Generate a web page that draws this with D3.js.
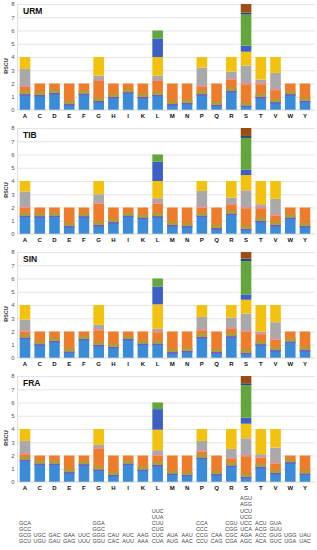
<!DOCTYPE html>
<html>
<head>
<meta charset="utf-8">
<script src="https://cdn.jsdelivr.net/npm/d3@7"></script>
<style>
    body { margin: 0; background: #fff; }
    svg { display: block; font-family: "Liberation Sans", Arial, sans-serif; }
    .grid line { stroke: #dedede; stroke-width: 0.8; }
    .grid path { display: none; }
    .y-axis path, .x-axis path { display: none; }
    .y-axis text { fill: #555; font-size: 6px; }
    .x-axis text { fill: #111; font-size: 6px; font-weight: bold; }
</style>
</head>
<body>
<div id="chart_parent"></div>
<script>
const aminoAcids = ['A', 'C', 'D', 'E', 'F', 'G', 'H', 'I', 'K', 'L', 'M', 'N', 'P', 'Q', 'R', 'S', 'T', 'V', 'W', 'Y'];

// codons of each amino acid, listed from the bottom of the stack upwards
const codons = [
    ['GCU', 'GCG', 'GCC', 'GCA'],
    ['UGU', 'UGC'],
    ['GAU', 'GAC'],
    ['GAG', 'GAA'],
    ['UUU', 'UUC'],
    ['GGU', 'GGG', 'GGC', 'GGA'],
    ['CAC', 'CAU'],
    ['AUU', 'AUC'],
    ['AAA', 'AAG'],
    ['CUA', 'CUC', 'CUG', 'CUU', 'UUA', 'UUC'],
    ['AUG', 'AUA'],
    ['AAC', 'AAU'],
    ['CCU', 'CCG', 'CCC', 'CCA'],
    ['CAG', 'CAA'],
    ['CGA', 'CGC', 'CGG', 'CGU'],
    ['AGC', 'AGA', 'UCA', 'UCC', 'UCG', 'UCU', 'AGG', 'AGU'],
    ['ACA', 'ACC', 'ACG', 'ACU'],
    ['GUC', 'GUG', 'GUU', 'GUA'],
    ['UGA', 'UGG'],
    ['UAC', 'UAU'],
];

const panelNames = ['URM', 'TIB', 'SIN', 'FRA'];

const urmRscu = [
    [1.2, 0.55, 1.35, 0.9], [1.15, 0.85], [1.3, 0.7], [0.45, 1.55], [1.25, 0.75],
    [0.7, 1.5, 0.4, 1.4], [1.0, 1.0], [1.35, 0.65], [1.0, 1.0],
    [1.15, 1.05, 0.4, 1.4, 1.4, 0.6], [0.45, 1.55], [0.55, 1.45],
    [1.2, 0.55, 1.45, 0.8], [0.4, 1.6], [1.45, 0.85, 0.6, 1.1],
    [0.35, 1.6, 1.4, 1.05, 0.45, 2.35, 0.15, 0.65],
    [1.0, 0.95, 0.35, 1.7], [0.6, 0.9, 1.3, 1.2], [1.2, 0.8], [0.7, 1.3],
];

const tibRscu = [
    [1.4, 0.6, 1.2, 0.8], [1.35, 0.65], [1.4, 0.6], [0.6, 1.4], [1.35, 0.65],
    [0.7, 1.6, 0.7, 1.0], [0.9, 1.1], [1.4, 0.6], [1.25, 0.75],
    [1.35, 0.95, 0.4, 1.3, 1.45, 0.55], [0.7, 1.3], [0.6, 1.4],
    [1.4, 0.6, 1.25, 0.75], [0.45, 1.55], [1.55, 0.65, 0.55, 1.25],
    [0.4, 1.55, 1.35, 1.15, 0.4, 2.4, 0.15, 0.6],
    [1.0, 0.95, 0.3, 1.75], [0.7, 0.7, 1.25, 1.35], [1.25, 0.75], [0.6, 1.4],
];

const sinRscu = [
    [1.55, 0.45, 0.9, 1.1], [1.05, 0.95], [1.3, 0.7], [0.5, 1.5], [1.45, 0.55],
    [1.0, 1.1, 0.4, 1.5], [0.85, 1.15], [1.45, 0.55], [1.1, 0.9],
    [1.1, 0.85, 0.25, 1.85, 1.35, 0.6], [0.45, 1.55], [0.55, 1.45],
    [1.6, 0.5, 1.0, 0.9], [0.45, 1.55], [1.65, 0.55, 0.85, 0.95],
    [0.4, 1.6, 1.35, 1.05, 0.4, 2.5, 0.2, 0.5],
    [1.05, 0.75, 0.2, 2.0], [0.6, 0.8, 1.3, 1.3], [1.25, 0.75], [0.6, 1.4],
];

const fraRscu = [
    [1.7, 0.4, 1.0, 0.9], [1.4, 0.6], [1.4, 0.6], [0.75, 1.25], [1.35, 0.65],
    [0.95, 1.55, 0.3, 1.2], [0.55, 1.45], [1.4, 0.6], [0.95, 1.05],
    [1.3, 0.7, 0.4, 1.55, 1.55, 0.5], [0.65, 1.35], [0.55, 1.45],
    [1.85, 0.45, 0.8, 0.9], [0.6, 1.4], [1.25, 0.5, 0.75, 1.5],
    [0.4, 1.55, 1.35, 1.1, 0.45, 2.45, 0.15, 0.55],
    [1.15, 0.7, 0.25, 1.9], [0.7, 0.7, 1.2, 1.4], [1.5, 0.5], [0.65, 1.35],
];

const yTicks = [0, 1, 2, 3, 4, 5, 6, 7, 8];

const panelValues = [urmRscu, tibRscu, sinRscu, fraRscu];

// one colour per position in the stack
const segmentColours = ['#3b8cd8', '#ee7d2b', '#a9a9a9', '#f3c20e', '#3d5fc6', '#62a63c', '#274a78', '#9b4d12'];

const chartConfig = {
    outerWidth: 317,
    outerHeight: 550,
    panelStep: 124,
    zeroY: 110,
    topY: 4,
    plotLeft: 17.6,
    plotRight: 315,
};

const svg = d3.select('#chart_parent').append('svg')
    .attr('width', chartConfig.outerWidth)
    .attr('height', chartConfig.outerHeight);

const xScale = d3.scaleBand()
    .domain(aminoAcids)
    .range([17.63, 312.37])
    .paddingInner(0.28)
    .paddingOuter(0.14);

function drawPanel(index) {
    const off = index * chartConfig.panelStep;
    const values = panelValues[index];

    const yScale = d3.scaleLinear()
        .domain([0, 8])
        .range([chartConfig.zeroY + off, chartConfig.topY + off]);

    const g = svg.append('g').attr('class', 'panel');

    g.append('g')
        .attr('class', 'grid')
        .attr('transform', `translate(${chartConfig.plotLeft},0)`)
        .call(d3.axisLeft(yScale).tickValues(yTicks.slice(1))
            .tickSize(-(chartConfig.plotRight - chartConfig.plotLeft)).tickFormat(''));

    g.append('line')
        .attr('x1', chartConfig.plotLeft).attr('x2', chartConfig.plotLeft)
        .attr('y1', yScale(0)).attr('y2', yScale(8))
        .attr('stroke', '#d4d4d4').attr('stroke-width', 0.8);

    g.append('g')
        .attr('class', 'y-axis')
        .attr('transform', `translate(${chartConfig.plotLeft},0)`)
        .call(d3.axisLeft(yScale).tickValues(yTicks).tickSize(0).tickPadding(3).tickFormat(d3.format('d')));

    // stacked bars
    aminoAcids.forEach((aa, i) => {
        const vals = values[i];
        const tops = d3.cumsum(vals);
        const x = xScale(aa);
        const w = xScale.bandwidth();
        vals.forEach((v, k) => {
            const y0 = yScale(tops[k] - v);
            const y1 = yScale(tops[k]);
            g.append('rect')
                .attr('x', x).attr('width', w)
                .attr('y', y1).attr('height', y0 - y1)
                .attr('fill', segmentColours[k]);
            // soft seams between segments, as in the original figure
            if (k === 0 && vals.length > 1) {
                g.append('rect').attr('x', x).attr('width', w)
                    .attr('y', y1).attr('height', 1.6).attr('fill', '#7659c6');
            }
            if (k === 1) {
                g.append('rect').attr('x', x).attr('width', w)
                    .attr('y', y0 - Math.min(3, y0 - y1)).attr('height', Math.min(3, y0 - y1))
                    .attr('fill', '#aaa03a');
            }
            if (k === 2) {
                g.append('rect').attr('x', x).attr('width', w)
                    .attr('y', y0 - 1.6).attr('height', 1.6).attr('fill', '#e3909c');
            }
        });
    });

    g.append('line')
        .attr('x1', chartConfig.plotLeft).attr('x2', chartConfig.plotRight)
        .attr('y1', yScale(0)).attr('y2', yScale(0))
        .attr('stroke', '#c8c8c8').attr('stroke-width', 0.8);

    g.append('g')
        .attr('class', 'x-axis')
        .attr('transform', `translate(0,${yScale(0)})`)
        .call(d3.axisBottom(xScale).tickSize(0).tickPadding(4));

    g.append('text')
        .attr('x', 23)
        .attr('y', yScale(8) + 10)
        .attr('font-size', 8.5)
        .attr('font-weight', 'bold')
        .attr('fill', '#111')
        .text(panelNames[index]);

    g.append('text')
        .attr('transform', `translate(6,${yScale(0) - 44}) rotate(-90)`)
        .attr('text-anchor', 'middle')
        .attr('dominant-baseline', 'central')
        .attr('font-size', 5.5)
        .attr('font-weight', 'bold')
        .attr('fill', '#333')
        .text('RSCU');
}

panelNames.forEach((name, i) => drawPanel(i));

// codon key under the last panel
const codonGroup = svg.append('g').attr('class', 'codons');
aminoAcids.forEach((aa, i) => {
    const cx = xScale(aa) + xScale.bandwidth() / 2;
    codons[i].forEach((c, k) => {
        codonGroup.append('text')
            .attr('x', cx)
            .attr('y', 543 - 6.1 * k)
            .attr('text-anchor', 'middle')
            .attr('font-size', 5.5)
            .attr('fill', '#444')
            .text(c);
    });
});
</script>
</body>
</html>
